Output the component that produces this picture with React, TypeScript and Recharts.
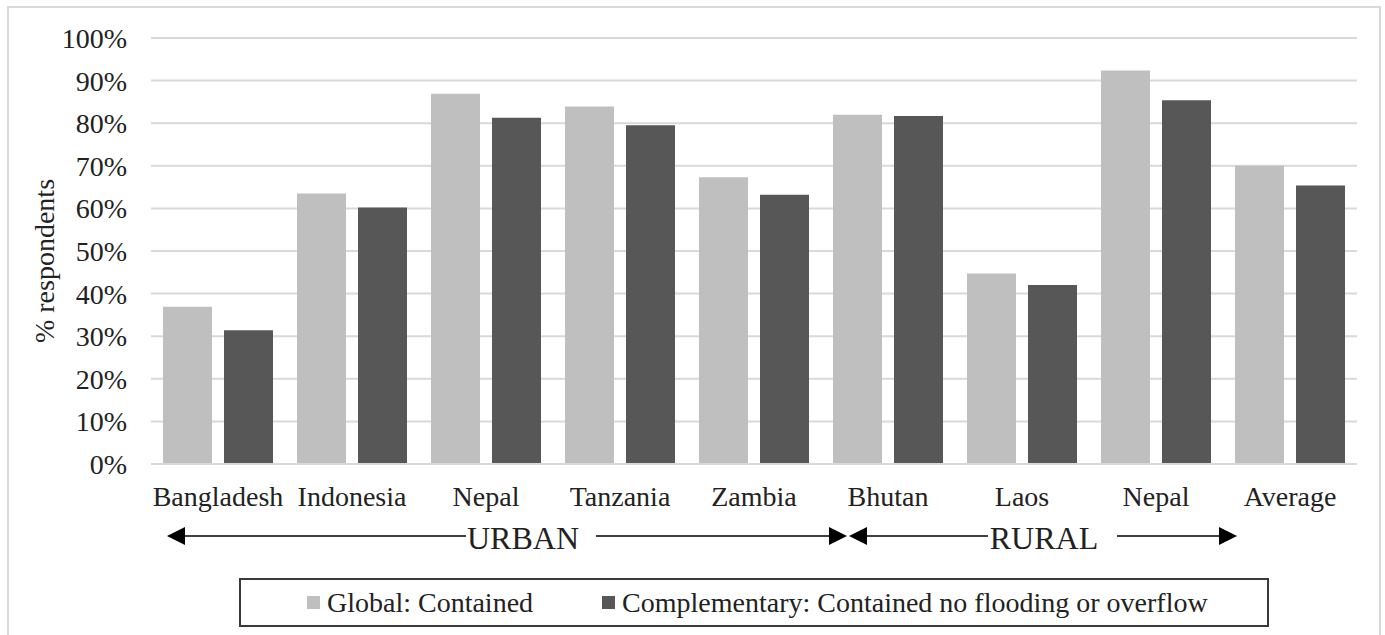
import React from 'react';
import { BarChart, Bar, XAxis, YAxis, CartesianGrid, Legend } from 'recharts';

const categories = ['Bangladesh', 'Indonesia', 'Nepal', 'Tanzania', 'Zambia', 'Bhutan', 'Laos', 'Nepal', 'Average'];
const globalContained = [36.9, 63.5, 86.9, 83.9, 67.3, 82.0, 44.7, 92.4, 70.0];
const complementaryContained = [31.4, 60.2, 81.3, 79.5, 63.2, 81.7, 42.0, 85.4, 65.4];
const yTicks = [0, 10, 20, 30, 40, 50, 60, 70, 80, 90, 100];
const seriesOrder = ['global', 'complementary'];

const FONT = "'Liberation Serif', 'Times New Roman', serif";
const TEXT = '#222222';
const GRID = '#D9D9D9';
const LIGHT = '#BFBFBF';
const DARK = '#575757';

const data = categories.map((name, i) => ({
  name,
  global: globalContained[i],
  complementary: complementaryContained[i],
}));

// boxed legend under the region arrows, kept in series order
function BoxLegend(props: any) {
  const items = [...(props.payload || [])].sort(
    (a: any, b: any) => seriesOrder.indexOf(a.dataKey) - seriesOrder.indexOf(b.dataKey)
  );
  return (
    <div
      style={{
        boxSizing: 'border-box',
        width: '100%',
        height: '100%',
        border: '2px solid #3a3a3a',
        display: 'flex',
        alignItems: 'center',
        paddingLeft: 66,
        fontFamily: FONT,
        fontSize: 28,
        color: TEXT,
      }}
    >
      {items.map((it: any, i: number) => (
        <div key={i} style={{ display: 'flex', alignItems: 'center', marginRight: 69 }}>
          <span style={{ display: 'inline-block', width: 13, height: 13, background: it.color, marginRight: 7 }} />
          <span style={{ whiteSpace: 'nowrap' }}>{it.value}</span>
        </div>
      ))}
    </div>
  );
}

function Arrow({ x1, x2, y }: { x1: number; x2: number; y: number }) {
  // arrowhead points at x2
  const dir = x2 > x1 ? 1 : -1;
  const base = x2 - dir * 18;
  return (
    <g>
      <line x1={x1} y1={y} x2={base} y2={y} stroke="#404040" strokeWidth={2} />
      <polygon points={`${x2},${y} ${base},${y - 9} ${base},${y + 9}`} fill="#000" />
    </g>
  );
}

export default function App() {
  return (
    <div style={{ position: 'absolute', left: 0, top: 0, width: 1385, height: 635, background: '#fff', overflow: 'hidden' }}>
      <BarChart
        width={1385}
        height={635}
        data={data}
        margin={{ top: 38, right: 28, bottom: 131, left: 0 }}
        barGap={12}
      >
        <CartesianGrid vertical={false} stroke={GRID} strokeWidth={2} />
        <XAxis
          dataKey="name"
          interval={0}
          height={40}
          tickLine={false}
          tickSize={0}
          tickMargin={22}
          axisLine={{ stroke: GRID, strokeWidth: 2 }}
          tick={{ fontFamily: FONT, fontSize: 28, fill: TEXT }}
        />
        <YAxis
          width={151}
          domain={[0, 100]}
          ticks={yTicks}
          interval={0}
          axisLine={false}
          tickLine={false}
          tickSize={0}
          tickMargin={24}
          tickFormatter={(v: number) => `${v}%`}
          tick={{ fontFamily: FONT, fontSize: 28, fill: TEXT }}
        />
        <Legend
          layout="horizontal"
          verticalAlign="middle"
          align="center"
          content={BoxLegend}
          wrapperStyle={{ left: 239, top: 578, width: 1030, height: 49 }}
        />
        <Bar dataKey="global" name="Global: Contained" fill={LIGHT} barSize={49} isAnimationActive={false} />
        <Bar
          dataKey="complementary"
          name="Complementary: Contained no flooding or overflow"
          fill={DARK}
          barSize={49}
          isAnimationActive={false}
        />
      </BarChart>

      <svg
        width={1385}
        height={635}
        style={{ position: 'absolute', left: 0, top: 0, pointerEvents: 'none' }}
      >
        <rect x={8} y={7} width={1372} height={650} fill="none" stroke={GRID} strokeWidth={2} />
        <text
          x={44}
          y={261}
          transform="rotate(-90 44 261)"
          textAnchor="middle"
          dominantBaseline="central"
          fontFamily={FONT}
          fontSize={28}
          fill={TEXT}
        >
          % respondents
        </text>

        {/* URBAN span */}
        <Arrow x1={466} x2={167} y={536} />
        <Arrow x1={596} x2={847} y={536} />
        <text x={523} y={549} textAnchor="middle" fontFamily={FONT} fontSize={32} fill={TEXT}>
          URBAN
        </text>

        {/* RURAL span */}
        <Arrow x1={988} x2={849} y={536} />
        <Arrow x1={1117} x2={1237} y={536} />
        <text x={1044} y={549} textAnchor="middle" fontFamily={FONT} fontSize={32} fill={TEXT}>
          RURAL
        </text>
      </svg>
    </div>
  );
}
